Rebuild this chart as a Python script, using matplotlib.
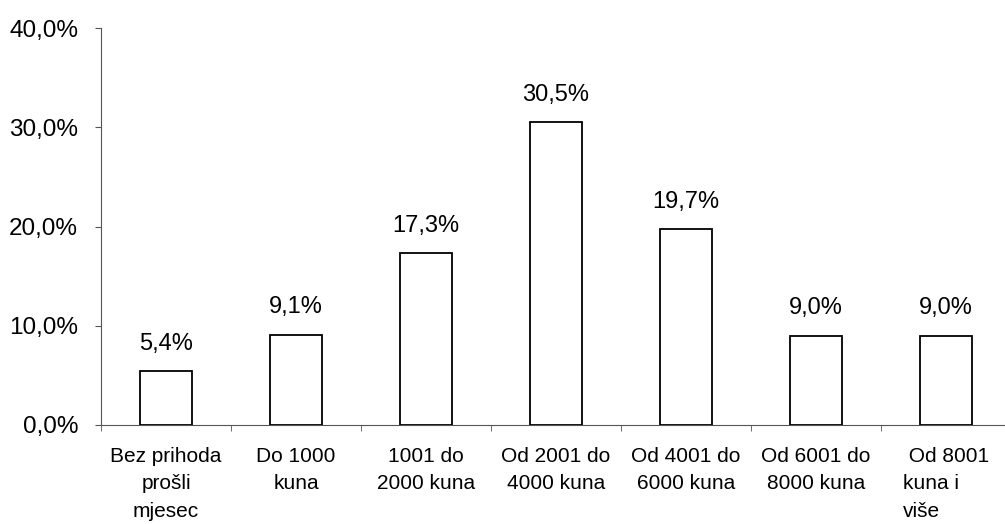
import matplotlib
matplotlib.use('Agg')
import matplotlib.pyplot as plt
import numpy as np

plt.rcParams['font.family'] = ['Liberation Sans', 'DejaVu Sans']

# Podaci
kategorije = ['Bez prihoda\nprošli\nmjesec', 'Do 1000\nkuna', '1001 do\n2000 kuna',
              'Od 2001 do\n4000 kuna', 'Od 4001 do\n6000 kuna', 'Od 6001 do\n8000 kuna',
              ' Od 8001\nkuna i\nviše']
postoci = [5.4, 9.1, 17.3, 30.5, 19.7, 9.0, 9.0]
y_ticks = [0, 10, 20, 30, 40]

fig = plt.figure(figsize=(10.05, 5.24), dpi=100)
ax = fig.add_axes([101 / 1005, 99 / 524, 910 / 1005, 397 / 524])

x = np.arange(len(kategorije))
bars = ax.bar(x, postoci, width=0.4, color='white', edgecolor='black', linewidth=1.3)

for xi, v in zip(x, postoci):
    ax.annotate(f'{v:.1f}%'.replace('.', ','), (xi, v), xytext=(0, 20),
                textcoords='offset points', ha='center', va='center', fontsize=17)

ax.set_xlim(-0.5, len(kategorije) - 0.5)
ax.set_ylim(0, 40)
ax.set_yticks(y_ticks)
ax.set_yticklabels([f'{t:.1f}%'.replace('.', ',') for t in y_ticks], fontsize=17.5)

ax.set_xticks(x)
ax.set_xticklabels(kategorije, fontsize=15, linespacing=1.55)
ax.get_xticklabels()[-1].set_multialignment('left')
ax.set_xticks(np.arange(-0.5, len(kategorije)), minor=True)
ax.tick_params(axis='x', which='major', length=0, pad=16)
ax.tick_params(axis='x', which='minor', length=4, color='#555555', direction='out')
ax.tick_params(axis='y', length=4.5, color='#555555', pad=12)

for s in ['top', 'right']:
    ax.spines[s].set_visible(False)
ax.spines['left'].set_color('#555555')
ax.spines['bottom'].set_color('#555555')

plt.savefig('out.png', dpi=100, facecolor='white')
